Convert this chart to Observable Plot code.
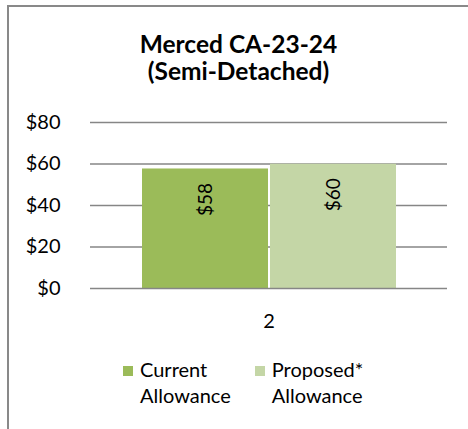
<!DOCTYPE html>
<html><head><meta charset="utf-8">
<script src="https://cdn.jsdelivr.net/npm/d3@7"></script>
<script src="https://cdn.jsdelivr.net/npm/@observablehq/plot@0.6"></script>
<style>
html,body{margin:0;padding:0;background:#fff}
body{width:468px;height:429px;overflow:hidden;position:relative;font-family:Lato,sans-serif;color:#000}
#frame{position:absolute;left:7px;top:5px;width:470px;height:440px;border-left:2px solid #898989;border-top:2px solid #898989}
#title{position:absolute;left:0;width:477px;top:30px;text-align:center;font-weight:bold;font-size:24.5px;line-height:27px}
#chart{position:absolute;left:0;top:100px}
#legend{position:absolute;left:123px;top:356px;display:flex;gap:24px;font-size:20px;line-height:26px}
.item{display:flex;align-items:flex-start}
.sw{width:10px;height:10px;margin-top:10px;margin-right:7px;flex:none}
</style></head><body>
<div id="frame"></div>
<div id="title"></div>
<div id="chart"></div>
<div id="legend"></div>
<script>
const titleLines = ["Merced CA-23-24", "(Semi-Detached)"];
const categories = ["2"];
const seriesNames = ["Current Allowance", "Proposed* Allowance"];
const seriesLegend = [["Current", "Allowance"], ["Proposed*", "Allowance"]];
const seriesValues = [57.6, 59.9];
const seriesColors = ["#9BBB59", "#C4D6A6"];
const yTicks = [0, 20, 40, 60, 80];

document.getElementById("title").innerHTML = titleLines.map(t => `<div>${t}</div>`).join("");

const data = seriesNames.map((s, i) => ({category: categories[0], series: s, value: seriesValues[i]}));
const fmt = d => "$" + Math.round(d);

const plot = Plot.plot({
  width: 468, height: 240,
  marginLeft: 90, marginRight: 21, marginTop: 22, marginBottom: 52,
  style: {fontFamily: "Lato, sans-serif", fontSize: "20px", color: "#000", background: "transparent", overflow: "visible"},
  fx: {domain: categories, paddingInner: 0, paddingOuter: 0, label: null, tickSize: 0, tickPadding: 25},
  x: {domain: seriesNames, paddingInner: 0, paddingOuter: 0.384, axis: null},
  y: {domain: [0, 80], ticks: yTicks, tickFormat: fmt, label: null, tickSize: 0, tickPadding: 30},
  color: {domain: seriesNames, range: seriesColors},
  marks: [
    Plot.ruleY(yTicks.filter(d => d > 0), {stroke: "#868686", strokeWidth: 1.3}),
    Plot.barY(data, {fx: "category", x: "series", y: "value", fill: "series", insetLeft: 1, insetRight: 1}),
    Plot.ruleY([0], {stroke: "#868686", strokeWidth: 1.3}),
    Plot.text(data, {fx: "category", x: "series", y: "value", text: d => fmt(d.value), rotate: -90, textAnchor: "end", dy: 14, fontSize: 19, fill: "#000"})
  ]
});
document.getElementById("chart").appendChild(plot);

const legend = document.getElementById("legend");
seriesNames.forEach((s, i) => {
  const item = document.createElement("div");
  item.className = "item";
  const sw = document.createElement("div");
  sw.className = "sw";
  sw.style.background = seriesColors[i];
  const t = document.createElement("div");
  t.innerHTML = seriesLegend[i].join("<br>");
  item.appendChild(sw); item.appendChild(t);
  legend.appendChild(item);
});
</script>
</body></html>
